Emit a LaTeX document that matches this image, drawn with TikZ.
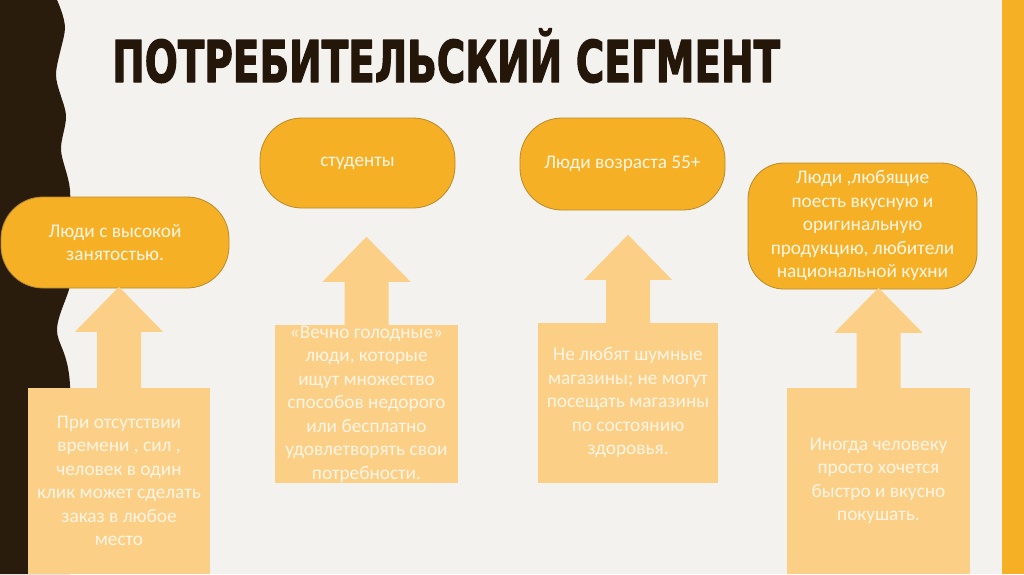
\documentclass[tikz,border=0pt]{standalone}
\usepackage{fontspec}
\usepackage{graphicx}
\setmainfont{Carlito}
\newfontfamily\titlefont{DejaVu Sans}[BoldFeatures={FakeBold=2.5}]
\usetikzlibrary{calc}

\definecolor{bgcol}{HTML}{F3F2EE}
\definecolor{stripcol}{HTML}{2A1C0C}
\definecolor{orangecol}{HTML}{F6B026}
\definecolor{edgecol}{HTML}{B88A2A}
\definecolor{arrowcol}{HTML}{FBCF86}
\definecolor{titlecol}{HTML}{24170A}
\definecolor{segtext}{HTML}{FFF6E4}
\definecolor{needtext}{HTML}{FFF5E4}

% block arrow from the top of a text box: #1 node, #2 shaft length
\newcommand{\needarrow}[2]{%
  \fill[arrowcol] ($(#1.north)+(-22,1)$) -- ($(#1.north)+(-22,-#2)$)
    -- ($(#1.north)+(-44,-#2)$) -- ($(#1.north)+(0,-#2-45)$)
    -- ($(#1.north)+(44,-#2)$) -- ($(#1.north)+(22,-#2)$)
    -- ($(#1.north)+(22,1)$) -- cycle;}

\begin{document}
\begin{tikzpicture}[line cap=round,line join=round,x=1pt,y=-1pt,
  segbox/.style={draw=edgecol,line width=0.8pt,fill=orangecol,text=segtext,
    align=center,font=\fontsize{19.3}{23.5}\selectfont,inner sep=0pt},
  needbox/.style={fill=arrowcol,text=needtext,align=center,
    font=\fontsize{19.3}{23.5}\selectfont,inner sep=0pt}]
\useasboundingbox (0,0) rectangle (1024,574);
\fill[bgcol] (0,0) rectangle (1024,574);
% wavy dark strip on the left
\fill[stripcol] (0,0) -- plot[smooth] coordinates {(57,0) (65,28) (56,75) (66,115) (61,150) (70,190)
  (69,250) (70,285) (57,330) (70,385) (70,574)} -- (0,574) -- cycle;
\fill[orangecol] (1002,0) rectangle (1024,574);

\node[anchor=base west,text=titlecol,inner sep=0pt] (title) at (112,82)
  {\resizebox{668pt}{\height}{\titlefont\bfseries\fontsize{57.6}{60}\selectfont ПОТРЕБИТЕЛЬСКИЙ СЕГМЕНТ}};

% segments
\node[segbox,rounded corners=42pt,minimum width=228pt,minimum height=91pt] (seg1) at (115,242.5)
  {Люди с высокой\\занятостью.};
\node[segbox,rounded corners=42pt,minimum width=195pt,minimum height=90pt] (seg2) at (357.5,163)
  {студенты};
\node[segbox,rounded corners=42pt,minimum width=205pt,minimum height=92pt] (seg3) at (622.5,164)
  {Люди возраста 55+};
\node[segbox,rounded corners=36pt,minimum width=229pt,minimum height=126pt] (seg4) at (862.5,226)
  {Люди ,любящие\\поесть вкусную и\\оригинальную\\продукцию, любители\\национальной кухни};

% needs
\node[needbox,minimum width=182pt,minimum height=186pt] (need1) at (119,481)
  {При отсутствии\\времени , сил ,\\человек в один\\клик может сделать\\заказ в любое\\место};
\node[needbox,minimum width=183pt,minimum height=158pt] (need2) at (366.5,404)
  {«Вечно голодные»\\люди, которые\\ищут множество\\способов недорого\\или бесплатно\\удовлетворять свои\\потребности.};
\node[needbox,minimum width=180pt,minimum height=160pt] (need3) at (628,403)
  {Не любят шумные\\магазины; не могут\\посещать магазины\\по состоянию\\здоровья.};
\node[needbox,minimum width=183pt,minimum height=186pt] (need4) at (878.5,481)
  {Иногда человеку\\просто хочется\\быстро и вкусно\\покушать.};

\needarrow{need1}{56}
\needarrow{need2}{43}
\needarrow{need3}{43}
\needarrow{need4}{55}
\end{tikzpicture}
\end{document}
